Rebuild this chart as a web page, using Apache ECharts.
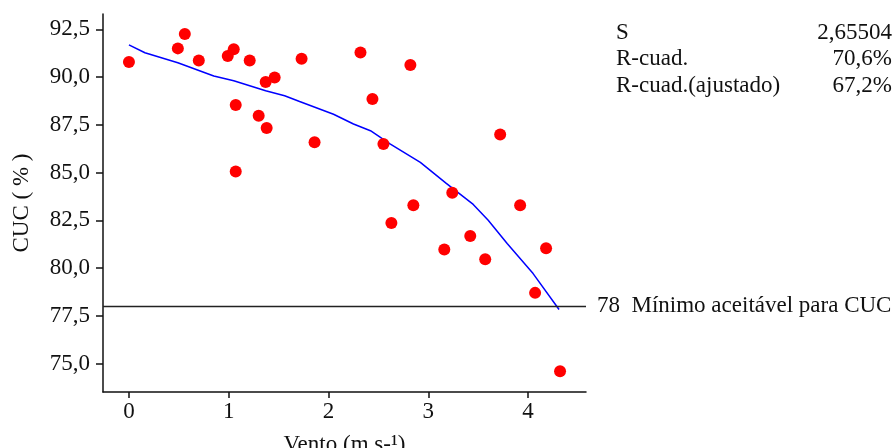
<!DOCTYPE html>
<html>
<head>
<meta charset="utf-8">
<script src="https://cdn.jsdelivr.net/npm/echarts@6/dist/echarts.min.js"></script>
<style>
  html, body { margin: 0; padding: 0; background: #fff; }
  #chart { width: 895px; height: 448px; }
</style>
</head>
<body>
<div id="chart"></div>
<script>
// Observações: velocidade do vento (m/s) e CUC (%)
const ventoObs = [0.00, 0.49, 0.56, 0.70, 0.99, 1.05, 1.07, 1.07, 1.21, 1.30, 1.37, 1.38, 1.46, 1.73, 1.86,
                  2.32, 2.44, 2.55, 2.63, 2.82, 2.85, 3.16, 3.24, 3.42, 3.57, 3.72, 3.92, 4.07, 4.18, 4.32];
const cucObs = [90.79, 91.50, 92.25, 90.87, 91.10, 91.45, 88.53, 85.06, 90.87, 87.97, 89.74, 87.33, 89.98, 90.96, 86.59,
                91.29, 88.85, 86.50, 82.36, 90.63, 83.29, 80.97, 83.94, 81.68, 80.46, 86.99, 83.29, 78.70, 81.04, 74.60];

// Curva ajustada
const ajusteVento = [0.00, 0.16, 0.49, 0.85, 1.05, 1.37, 1.56, 1.71, 2.05, 2.25, 2.42, 2.62, 2.92, 3.18, 3.45, 3.60, 3.79, 4.05, 4.31];
const ajusteCUC = [91.68, 91.27, 90.75, 90.05, 89.81, 89.28, 89.02, 88.72, 88.05, 87.54, 87.19, 86.49, 85.53, 84.43, 83.33, 82.50, 81.28, 79.71, 77.83];

// Marcas dos eixos
const xTicks = [0, 1, 2, 3, 4];
const yTicks = [75, 77.5, 80, 82.5, 85, 87.5, 90, 92.5];

// Limite mínimo aceitável
const limiteCUC = 78;

// Resumo do modelo
const estatRotulos = ['S', 'R-cuad.', 'R-cuad.(ajustado)'];
const estatValores = ['2,65504', '70,6%', '67,2%'];

const FONT = '"Liberation Serif", "DejaVu Serif", "Times New Roman", serif';
const FS = 23;
const INK = '#111';

const pontos = ventoObs.map((v, i) => [v, cucObs[i]]);
const curva = ajusteVento.map((v, i) => [v, ajusteCUC[i]]);

const fmtY = v => v.toFixed(1).replace('.', ',');

const graficoTextos = [];
estatRotulos.forEach((r, i) => {
  const y = 32.5 + i * 26.7;
  graficoTextos.push({
    type: 'text', x: 616, y: y,
    style: { text: r, fill: INK, font: FS + 'px ' + FONT, textAlign: 'left', textVerticalAlign: 'middle' }
  });
  graficoTextos.push({
    type: 'text', x: 892, y: y,
    style: { text: estatValores[i], fill: INK, font: FS + 'px ' + FONT, textAlign: 'right', textVerticalAlign: 'middle' }
  });
});

const chart = echarts.init(document.getElementById('chart'));
chart.setOption({
  animation: false,
  backgroundColor: '#fff',
  grid: { left: 103, right: 309, top: 14, bottom: 56, containLabel: false, outerBoundsMode: 'none' },
  xAxis: {
    type: 'value',
    min: -0.26, max: 4.58,
    name: 'Vento (m s-¹)',
    nameLocation: 'middle',
    nameGap: 41,
    nameTextStyle: { color: INK, fontFamily: FONT, fontSize: FS },
    axisLine: { show: true, onZero: false, lineStyle: { color: INK, width: 1.5 } },
    axisTick: { show: true, length: 6, inside: false, customValues: xTicks, lineStyle: { color: INK, width: 1.5 } },
    axisLabel: { show: true, margin: 8, customValues: xTicks, color: INK, fontFamily: FONT, fontSize: FS,
                 formatter: v => String(v) },
    splitLine: { show: false }
  },
  yAxis: {
    type: 'value',
    min: 73.51, max: 93.3,
    name: 'CUC ( % )',
    nameLocation: 'middle',
    nameGap: 70,
    nameRotate: 90,
    nameTextStyle: { color: INK, fontFamily: FONT, fontSize: FS },
    axisLine: { show: true, onZero: false, lineStyle: { color: INK, width: 1.5 } },
    axisTick: { show: true, length: 7, inside: false, customValues: yTicks, lineStyle: { color: INK, width: 1.5 } },
    axisLabel: { show: true, margin: 13, customValues: yTicks, color: INK, fontFamily: FONT, fontSize: FS,
                 formatter: v => fmtY(v) },
    splitLine: { show: false }
  },
  graphic: graficoTextos,
  series: [
    {
      type: 'line',
      data: curva,
      showSymbol: false,
      symbol: 'none',
      smooth: false,
      lineStyle: { color: '#0000ff', width: 1.5 },
      z: 2
    },
    {
      type: 'scatter',
      data: pontos,
      symbol: 'circle',
      symbolSize: 12,
      itemStyle: { color: '#ff0000', opacity: 1 },
      z: 3,
      markLine: {
        silent: true,
        symbol: ['none', 'none'],
        lineStyle: { color: '#222', width: 1.3, type: 'solid' },
        label: {
          show: true, position: 'end', distance: 11,
          formatter: limiteCUC + '  Mínimo aceitável para CUC',
          color: INK, fontFamily: FONT, fontSize: FS
        },
        data: [{ yAxis: limiteCUC }]
      }
    }
  ]
});
</script>
</body>
</html>
